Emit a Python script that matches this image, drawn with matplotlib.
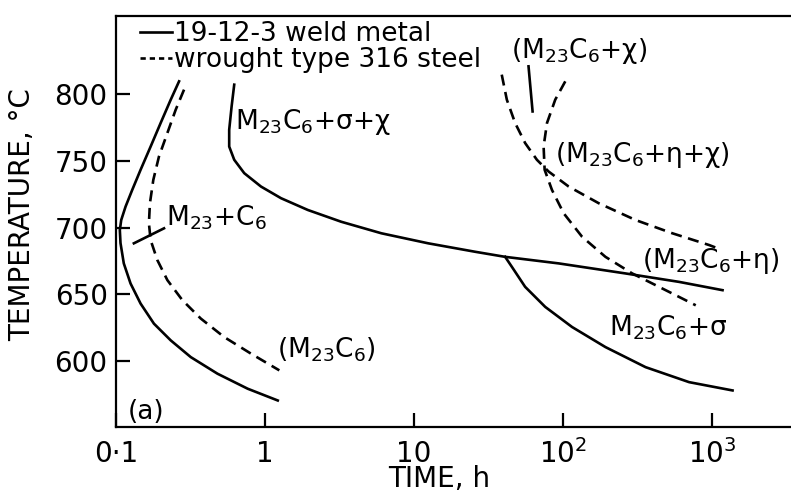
import numpy as np
import matplotlib
matplotlib.use('Agg')
import matplotlib.pyplot as plt
from matplotlib.lines import Line2D
from matplotlib.ticker import NullLocator

plt.rcParams['font.family'] = ['DejaVu Sans']
plt.rcParams['mathtext.default'] = 'regular'

# 19-12-3 weld metal: start of M23C6 precipitation
weld_t = [0.265, 0.233, 0.1994, 0.1708, 0.1462, 0.1285, 0.1159, 0.1084, 0.1061, 0.1072,
          0.1128, 0.1252, 0.1462, 0.1797, 0.233, 0.3176, 0.480, 0.765, 1.218]
weld_T = [809.2, 795.5, 778.1, 760.5, 743.1, 728.1, 715.6, 705.6, 698.1, 688.4,
          673.2, 658.2, 643.2, 628.2, 615.7, 603.2, 590.8, 579.6, 570.8]

# wrought type 316: start of M23C6 precipitation
wr_t = [0.2862, 0.2516, 0.2212, 0.1942, 0.178, 0.1689, 0.1663, 0.1708, 0.1894, 0.2212,
        0.2791, 0.3707, 0.532, 0.805, 1.248]
wr_T = [803, 788, 770.6, 753, 735.6, 718.1, 703.1, 690.6, 675.7, 660.7,
        645.7, 632, 618.2, 605.8, 593.3]

# short marker across the two M23C6 curves
mark_t = [0.1318, 0.21]
mark_T = [688.2, 699.4]

# weld metal: M23C6 + sigma + chi boundary
sig_t = [0.6215, 0.597, 0.575, 0.575, 0.6215, 0.7256, 0.940, 1.281, 1.939, 3.25,
         6.04, 12.46, 25.7, 40.9, 93.6, 262.8, 601, 1177]
sig_T = [806.7, 790.5, 773, 760.5, 750.6, 740.6, 730.6, 721.9, 713.1, 704.3,
         695.7, 688.2, 681.9, 678.1, 673.2, 665.7, 659.4, 653.2]

# weld metal: M23C6 + sigma branch
sig2_t = [40.9, 45.4, 55.7, 76, 115, 192.7, 358.3, 702, 1374]
sig2_T = [678.1, 670.6, 655.7, 640.7, 625.7, 610.7, 595.7, 584.5, 578.3]

# wrought 316: eta boundary
eta_t = [38.8, 41.98, 47.7, 55.7, 66.8, 80.1, 109.2, 174, 306.9, 542, 957.4, 1150]
eta_T = [814.2, 795.5, 778.1, 763.1, 750.6, 741.8, 730.6, 718.1, 705.6, 695.7, 686.9, 683.5]

# wrought 316: chi boundary
chi_t = [103.6, 88.7, 78.1, 74.1, 75.3, 84.3, 101.1, 134.3, 192.7, 291.5, 488.6, 778]
chi_T = [809.2, 795.5, 778.1, 760.5, 743.1, 728.1, 710.6, 693.1, 678.1, 665.7, 653.2, 641.9]

# divider under (M23C6+chi)
div_t = [58.7, 62.5]
div_T = [820.4, 786.7]

xticks_v = [0.1, 1, 10, 100, 1000]
xticks_l = ['0·1', '1', '10', '10$^2$', '10$^3$']
yticks_v = [600, 650, 700, 750, 800]

fig = plt.figure(figsize=(7.91, 4.94), dpi=100)
ax = fig.add_axes([116/791, 1-427/494, 675/791, 411/494])

lw = 1.9
dash = (4.2, 2.5)
ax.plot(weld_t, weld_T, 'k-', lw=lw)
ax.plot(wr_t, wr_T, 'k--', lw=lw, dashes=dash)
ax.plot(mark_t, mark_T, 'k-', lw=lw)
ax.plot(sig_t, sig_T, 'k-', lw=lw)
ax.plot(sig2_t, sig2_T, 'k-', lw=lw)
ax.plot(eta_t, eta_T, 'k--', lw=lw, dashes=dash)
ax.plot(chi_t, chi_T, 'k--', lw=lw, dashes=dash)
ax.plot(div_t, div_T, 'k-', lw=lw)

ax.set_xscale('log')
ax.set_xlim(0.1, 3390)
ax.set_ylim(551, 858)
ax.set_xticks(xticks_v)
ax.set_xticklabels(xticks_l)
ax.xaxis.set_minor_locator(NullLocator())
ax.set_yticks(yticks_v)
ax.tick_params(direction='in', length=10, width=1.6, labelsize=20)
ax.tick_params(axis='x', pad=9)
ax.tick_params(axis='y', pad=6)
ax.spines['right'].set_visible(False)
for s in ['left', 'top', 'bottom']:
    ax.spines[s].set_linewidth(1.6)

ax.set_xlabel('TIME, h', fontsize=20, va='top')
ax.xaxis.set_label_coords(0.4785, -0.093)
ax.set_ylabel('TEMPERATURE, °C', fontsize=20)
ax.yaxis.set_label_coords(-0.118, 0.516)

fs = 19
ax.text(0.63, 779, 'M$_{23}$C$_6$+σ+χ', fontsize=fs, va='center')
ax.text(0.215, 707, 'M$_{23}$+C$_6$', fontsize=fs, va='center')
ax.text(1.2, 609, '(M$_{23}$C$_6$)', fontsize=fs, va='center')
ax.text(45, 832, '(M$_{23}$C$_6$+χ)', fontsize=fs, va='center')
ax.text(89, 754, '(M$_{23}$C$_6$+η+χ)', fontsize=fs, va='center')
ax.text(340, 675, '(M$_{23}$C$_6$+η)', fontsize=fs, va='center')
ax.text(205, 625, 'M$_{23}$C$_6$+σ', fontsize=fs, va='center')
ax.text(0.12, 562, '(a)', fontsize=fs, va='center')

handles = [Line2D([], [], color='k', lw=lw),
           Line2D([], [], color='k', lw=lw, ls='--', dashes=(2, 1.5))]
leg = ax.legend(handles, ['19-12-3 weld metal', 'wrought type 316 steel'],
                loc='upper left', bbox_to_anchor=(0.02, 1.013), frameon=False,
                fontsize=fs, handlelength=1.2, handletextpad=0.1,
                labelspacing=0.0, borderaxespad=0)

fig.savefig('out.png', dpi=100)
